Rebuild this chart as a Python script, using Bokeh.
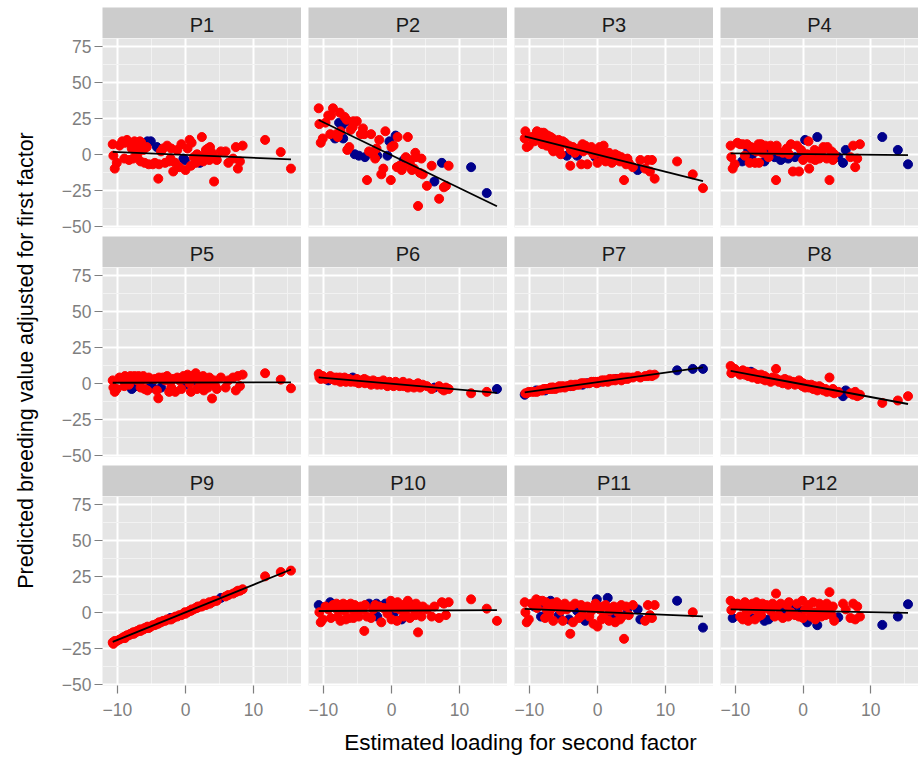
import numpy as np
from bokeh.plotting import figure
from bokeh.models import Range1d, FixedTicker, LinearAxis, Grid
from bokeh.layouts import row, column
from bokeh.core.properties import value
from bokeh.embed import file_html
from bokeh.resources import INLINE

# ---------------- data ----------------
x_loading = [
    -10.7, -10.6, -10.4, -10.1, -9.7, -9.3, -9.0, -8.9, -8.6, -8.3,
    -8.1, -7.9, -7.7, -7.6, -7.5, -7.3, -7.1, -6.9, -6.7, -6.6,
    -6.5, -6.2, -6.0, -5.7, -5.6, -5.4, -5.1, -4.8, -4.5, -4.2,
    -4.0, -3.9, -3.6, -3.3, -3.0, -2.7, -2.4, -2.2, -2.1, -1.8,
    -1.5, -1.2, -0.9, -0.6, -0.3, -0.1, 0.0, 0.3, 0.6, 0.8,
    0.9, 1.2, 1.5, 1.7, 1.8, 2.1, 2.4, 2.6, 2.7, 3.0,
    3.3, 3.5, 3.6, 3.9, 4.2, 4.4, 4.6, 5.2, 5.9, 6.3,
    7.0, 7.4, 7.7, 8.0, 8.4, 11.7, 14.0, 15.5]

panels = ["P1", "P2", "P3", "P4", "P5", "P6", "P7", "P8", "P9", "P10", "P11", "P12"]

y_P1 = [7, -1, -10, -6, 6, 9, -3, 8, 10, -4,
        8, 4, -3, 7, 9, 2, -1, 6, 9, -5,
        8, 3, -6, 5, 9, -7, 9, -7, -6, 5,
        -17, -7, 2, 4, -6, 6, -5, -3, 4, -12,
        -6, 3, -9, 7, -3, -4, -11, 4, 10, -8,
        8, -2, -6, 0, -5, -6, 12, -5, -1, 3,
        4, -4, 5, 1, -19, -3, -4, 2, 2, -6,
        -3, 5, -10, -5, 6, 10, 1.5, -10]
y_P2 = [32, 21, 8, 11, 22, 27, 14, 27, 32, 11,
        14, 12, 22, 29, 16, 20, 11, 26, 23, 24,
        3, 5, 17, 19, 23, 0, 23, -1, 14, 18,
        14, -2, -18, 2, 14, 0, -3, 4, -1, 10,
        -14, -10, 16, -1, 9, -18, 5, 6, 13, -9,
        12, -8, -11, -9, -4, -2, 12, -4, -6, -11,
        -10, 1, -2, -36, -13, -3, -14, -22, -8, -19,
        -31, -6, -23, -22, -8, -9, -27, -56]
y_P3 = [11, 16, 5, 6, 12, 9, 14, 16, 13, 15,
        7, 15, 14, 12, 6, 13, 10, 12, 4, 11,
        2, 9, 7, 10, 4, 0, 9, 8, -1, 6,
        -8, 3, 5, 1, -1, 4, -7, 7, 2, 6,
        -7, 3, 5, 0, -2, 1, -6, 5, 2, -1,
        6, -5, -1, 1, -3, -6, -2, 0, -4, -1,
        -5, -2, -4, -18, -7, -3, -6, -9, -11, -4,
        -10, -4, -12, -4, -17, -5, -14, -23.6]
y_P4 = [6, -2, -10, -7, 8, 7, -5, 7, -1, 7,
        3, -6, 5, -1, 4, 3, -6, 2, 3, 7,
        -6, 7, 1, -5, 6, 4, -2, 6, 3, -2,
        -18, 6, 2, -4, 1, -2, 4, -3, 0, 7,
        -12, -2, 6, -12, 3, 1, -4, 10, 0, 9,
        -10, -3, -1, 3, -4, 12, -3, 2, -1, 5,
        4, -3, 5, -18, 2, -4, 0, -2, -6, 3,
        -2, 6, -9, -3, 7, 12, 3, -7]
y_P5 = [2, -3, -6, -4, 4, 3, -2, 5, 4, -1,
        5, -4, 4, 3, 5, -2, 2, 5, 4, -3,
        2, 5, -4, 3, -5, 4, -2, -3, 3, -5,
        -10.5, 4, -3, 4, 2, 5, -6, 1, -3, 3,
        -6, 4, 2, -4, 5, 3, -1, 6, 0, -6,
        5, 2, 7, -4, 3, 1, -2, 5, -5, 2,
        -3, 4, 1, -10.6, 2, -2, -4, 4, -3, 2,
        4, -5, 5, -2, 6, 7, 2.5, -3.5]
y_P6 = [6.5, 4, 3, 5, 3, 2, 5, 3, 4, 2,
        4, 2, 3, 4, 1, 3, 2, 4, 1, 3,
        2, 3, 1, 4, 2, 1, 3, 0, 2, 1,
        3, 0, 2, 1, -1, 2, 0, 1, -1, 1,
        -1, 2, 0, -2, 1, 0, -1, -2, 1, -1,
        0, -2, -1, 1, -2, -1, -3, 0, -2, -1,
        -3, -1, -2, 0, -3, -2, -1, -2, -4, -3,
        -2, -4, -5, -3, -4, -7, -6, -4]
y_P7 = [-8, -7, -7, -6, -6, -6, -5, -6, -5, -5,
        -5, -4, -5, -4, -4, -4, -4, -3, -4, -3,
        -3, -4, -3, -3, -2, -3, -2, -3, -2, -2,
        -2, -1, -2, -1, -1, -1, 0, -1, 0, 0,
        0, 0, 1, 1, 1, 0, 1, 1, 2, 1,
        2, 2, 1, 2, 3, 2, 3, 2, 3, 3,
        3, 2, 4, 3, 4, 3, 4, 4, 5, 4,
        5, 5, 6, 5, 6, 9, 10, 10]
y_P8 = [12, 7, 9, 10, 8, 6, 7, 9, 6, 8,
        5, 7, 8, 6, 4, 7, 5, 6, 3, 5,
        4, 6, 3, 5, 2, 4, 3, 1, 4, 2,
        10, 3, 1, 2, 0, 3, 1, -1, 2, 0,
        1, -1, 0, 2, -1, -2, 0, -3, -1, -2,
        -3, -1, -4, -2, -3, -5, -2, -4, -3, -5,
        -4, -6, -5, 4, -6, -4, -7, -6, -9, -5,
        -7, -8, -6, -9, -8, -13.7, -12, -9]
y_P9 = [-21, -22, -20, -20, -19, -18, -17, -18, -16, -16,
        -15, -15, -14, -15, -14, -14, -13, -13, -12, -13,
        -12, -12, -11, -11, -10, -11, -10, -9, -9, -8,
        -8, -7, -7, -6, -6, -5, -5, -4, -5, -4,
        -3, -3, -2, -2, -1, 0, -1, 0, 1, 1,
        2, 2, 3, 3, 4, 4, 4, 5, 6, 5,
        6, 7, 6, 7, 8, 8, 8, 10, 11, 12,
        13, 14, 15, 15, 16, 25, 28, 29]
y_P10 = [5, 0, -7, -5, 4, 2, 7, -4, 5, 3,
         6, -3, 5, 4, -6, 2, 6, 1, -5, 5,
         3, -4, 6, 2, -4, 5, 1, -3, 4, 2,
         -13, 5, -3, 6, -4, 2, 5, 6, -3, 4,
         -7, 3, 6, -1, 4, 8, -5, -1, 3, -6,
         7, 2, -5, 5, -3, 1, 8, 4, -4, 5,
         2, -2, 6, -14, 3, -3, 4, 2, -3, 4,
         -4, 7, 6, -2, 7, 9, 2.5, -6]
y_P11 = [7, 0, -7, -5, 6, 4, 9, 3, 8, -3,
         8, 5, -4, 7, 2, 6, -1, 8, 3, 6,
         -6, 4, 7, -2, 5, 1, -6, 6, 2, -5,
         -15, 4, -7, 6, 1, -4, 5, -2, 3, -6,
         4, -3, 1, -8, 6, 9, -10, 2, -5, 4,
         -3, 5, 10, -6, 1, -2, 4, -7, 3, 0,
         -5, 5, -3, -18.5, 4, 2, -2, 5, 2, -5,
         -6, 5, -2, -4, 5, 8, 0, -10.7]
y_P12 = [8, 1.5, -4, 5, 6, -3, 4, -5, 7, 0,
         -6, 5, 2, -4, 6, 3, -5, 7, 1, -3,
         5, -2, 6, -6, 3, 5, -5, 1, 6, -3,
         13, 4, -2, 6, -4, 2, 5, -3, 7, 0,
         4, -2, 6, -3, 1, 8, -4, 2, -7, 5,
         1, -3, 7, 0, -5, -9, 6, 2, -3, 4,
         -2, 6, 1, 14, -2, 4, -6, -3.5, 6, 2,
         -4, 6, -5, 4, -3, -8.8, -3, 5.6]

# 1-based positions (in x_loading order) of the dark-blue points in each panel
blue_P1 = [25, 27, 30, 45, 46, 56]
blue_P2 = [10, 13, 16, 17, 19, 26, 28, 32, 39, 44, 45, 49, 55, 70, 72, 76, 77]
blue_P3 = [17, 29, 35, 45, 69]
blue_P4 = [7, 11, 14, 24, 26, 30, 34, 36, 38, 42, 46, 48, 53, 56, 68, 69, 70, 76, 77, 78]
blue_P5 = [12, 16, 27, 28, 33, 47, 52]
blue_P6 = [6, 13, 24, 47, 53, 70, 78]
blue_P7 = [1, 7, 13, 31, 38, 41, 48, 59, 76, 77, 78]
blue_P8 = [13, 43, 69, 70]
blue_P9 = [38, 68]
blue_P10 = [1, 7, 34, 38, 39, 43, 48, 53, 60]
blue_P11 = [6, 10, 12, 18, 24, 30, 35, 40, 46, 53, 56, 66, 69, 70, 76, 78]
blue_P12 = [3, 14, 24, 27, 36, 41, 45, 49, 56, 68, 76, 77, 78]

x_ticks = [-10, 0, 10]
x_minor = [-5, 5, 15]
y_ticks = [-50, -25, 0, 25, 50, 75]
y_minor = [-37.5, -12.5, 12.5, 37.5, 62.5]
tick_text = {-10: "\u221210", -25: "\u221225", -50: "\u221250"}

x_title = "Estimated loading for second factor"
y_title = "Predicted breeding value adjusted for first factor"

Y = [y_P1, y_P2, y_P3, y_P4, y_P5, y_P6, y_P7, y_P8, y_P9, y_P10, y_P11, y_P12]
BLUE = [blue_P1, blue_P2, blue_P3, blue_P4, blue_P5, blue_P6,
        blue_P7, blue_P8, blue_P9, blue_P10, blue_P11, blue_P12]
for yy in Y:
    assert len(yy) == len(x_loading), len(yy)

# ---------------- style / layout ----------------
FONT = "Liberation Sans"
XR = (-12.2, 17.05)
YR = (-51.0, 80.6)
FW = [199, 199, 199, 198]   # frame widths
FH = 189                    # frame height
YLAB_W = 45                 # width of the y-title strip
LB = 57                     # left border of first column (tick labels)
BB = 36                     # bottom border of last row (x axis)
GAP = 9                     # gap between facet rows
TOP = 7
SH = 31                     # strip height
XL_H = 37
RED = "#FF0000"
NAVY = "#00008B"
GREY50 = "#7F7F7F"


def base_fig(w, h, xr, yr, left=0, bottom=0, top=0, bg="#E5E5E5"):
    p = figure(width=w, height=h, x_range=xr, y_range=yr,
               x_axis_location=None, y_axis_location=None,
               toolbar_location=None, output_backend="svg", title=None,
               min_border_left=left, min_border_right=0,
               min_border_top=top, min_border_bottom=bottom,
               background_fill_color=bg, border_fill_color="white",
               outline_line_color=None)
    p.center = [r for r in p.center if not isinstance(r, Grid)]
    return p


def make_panel(i, c, r):
    left = LB if c == 0 else 0
    bottom = BB if r == 2 else GAP
    p = base_fig(FW[c] + left, FH + bottom, Range1d(*XR), Range1d(*YR), left, bottom)
    p.add_layout(Grid(dimension=0, ticker=FixedTicker(ticks=x_ticks, minor_ticks=x_minor),
                      grid_line_color="white", grid_line_width=2,
                      minor_grid_line_color="#F2F2F2", minor_grid_line_width=1), "center")
    p.add_layout(Grid(dimension=1, ticker=FixedTicker(ticks=y_ticks, minor_ticks=y_minor),
                      grid_line_color="white", grid_line_width=2,
                      minor_grid_line_color="#F2F2F2", minor_grid_line_width=1), "center")
    if c == 0:
        ya = LinearAxis(ticker=FixedTicker(ticks=y_ticks),
                        major_label_overrides=tick_text,
                        axis_line_color=None, major_tick_in=0, major_tick_out=8,
                        major_tick_line_color=GREY50, major_tick_line_width=1.2,
                        minor_tick_line_color=None,
                        major_label_text_color=GREY50,
                        major_label_text_font=FONT,
                        major_label_text_font_size="17.5px",
                        major_label_standoff=3)
        p.add_layout(ya, "left")
    if r == 2:
        xa = LinearAxis(ticker=FixedTicker(ticks=x_ticks),
                        major_label_overrides=tick_text,
                        axis_line_color=None, major_tick_in=0, major_tick_out=8,
                        major_tick_line_color=GREY50, major_tick_line_width=1.2,
                        minor_tick_line_color=None,
                        major_label_text_color=GREY50,
                        major_label_text_font=FONT,
                        major_label_text_font_size="17.5px",
                        major_label_standoff=9)
        p.add_layout(xa, "below")

    yv = Y[i]
    blue_set = set(b - 1 for b in BLUE[i])
    n = len(x_loading)
    bx = [x_loading[k] for k in range(n) if k in blue_set]
    by = [yv[k] for k in range(n) if k in blue_set]
    rx = [x_loading[k] for k in range(n) if k not in blue_set]
    ry = [yv[k] for k in range(n) if k not in blue_set]
    p.scatter(x=bx, y=by, size=9, fill_color=NAVY, line_color=NAVY)
    p.scatter(x=rx, y=ry, size=9, fill_color=RED, line_color=RED)

    slope, intercept = np.polyfit(np.array(x_loading), np.array(yv, dtype=float), 1)
    lx = [min(x_loading), max(x_loading)]
    ly = [intercept + slope * v for v in lx]
    p.line(x=lx, y=ly, line_color="black", line_width=1.8)
    return p


def make_strip(name, c, r):
    left = LB if c == 0 else 0
    top = TOP if r == 0 else 0
    s = base_fig(FW[c] + left, SH + top, Range1d(0, 1), Range1d(0, 1), left, 0, top, bg="#CCCCCC")
    s.text(x=[0.5], y=[0.45], text=[name], text_align="center", text_baseline="middle",
           text_font=value(FONT), text_font_size="20px", text_color="#1A1A1A")
    return s


blocks = []
for r in range(3):
    strips = row([make_strip(panels[4 * r + c], c, r) for c in range(4)], spacing=7)
    figs = row([make_panel(4 * r + c, c, r) for c in range(4)], spacing=7)
    blocks.append(column(strips, figs, spacing=0))
body = column(blocks, spacing=0)

BODY_H = TOP + 3 * SH + 3 * FH + 2 * GAP + BB
ylab = base_fig(YLAB_W, BODY_H, Range1d(0, YLAB_W), Range1d(0, BODY_H), 0, 0, 0, bg="white")
ylab.text(x=[25], y=[BODY_H - 360], text=[y_title], angle=np.pi / 2,
          text_align="center", text_baseline="middle",
          text_font=value(FONT), text_font_size="21.5px", text_color="black")

total_w = YLAB_W + LB + sum(FW) + 3 * 7
xlab = base_fig(total_w, XL_H, Range1d(0, total_w), Range1d(0, XL_H), 0, 0, 0, bg="white")
xlab.text(x=[520], y=[16], text=[x_title], text_align="center", text_baseline="middle",
          text_font=value(FONT), text_font_size="22.5px", text_color="black")

layout = column(row(ylab, body, spacing=0), xlab, spacing=0)

open("out.html", "w").write(file_html(layout, INLINE))
